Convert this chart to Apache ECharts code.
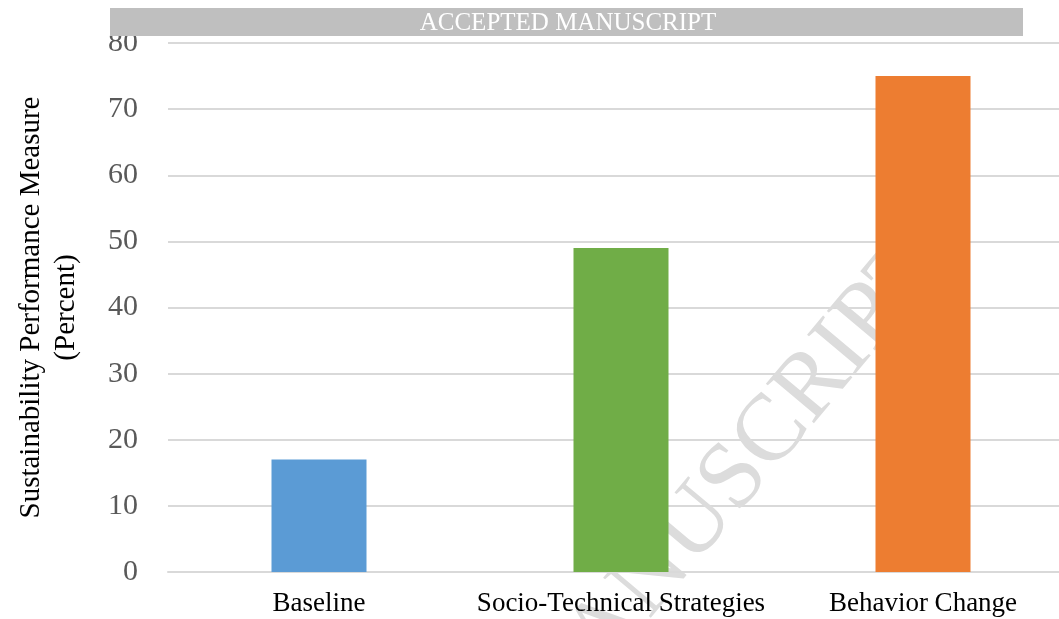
<!DOCTYPE html>
<html>
<head>
<meta charset="utf-8">
<script src="https://cdn.jsdelivr.net/npm/echarts@6/dist/echarts.min.js"></script>
<style>html,body{margin:0;padding:0;background:#fff;}#c{width:1059px;height:619px;}</style>
</head>
<body>
<div id="c"></div>
<script>
const categories = ['Baseline', 'Socio-Technical Strategies', 'Behavior Change'];
const values = [17, 49, 75];
const barColors = ['#5b9bd5', '#70ad47', '#ed7d31'];
const yTicks = [0, 10, 20, 30, 40, 50, 60, 70, 80];

const chart = echarts.init(document.getElementById('c'), null, {renderer: 'canvas'});
const serif = '"Liberation Serif", "DejaVu Serif", serif';
chart.setOption({
  animation: false,
  backgroundColor: '#ffffff',
  grid: {left: 168, right: -15, top: 43, bottom: 47, containLabel: false, outerBoundsMode: 'none'},
  xAxis: {
    type: 'category',
    data: categories,
    z: 4,
    axisLine: {show: true, lineStyle: {color: '#d9d9d9', width: 2}},
    axisTick: {show: false},
    axisLabel: {color: '#000000', fontFamily: serif, fontSize: 27, margin: 18, interval: 0, hideOverlap: false}
  },
  yAxis: {
    type: 'value',
    min: yTicks[0],
    max: yTicks[yTicks.length - 1],
    interval: 10,
    name: 'Sustainability Performance Measure\n(Percent)',
    nameLocation: 'middle',
    nameGap: 84,
    nameTextStyle: {color: '#000000', fontFamily: serif, fontSize: 29, lineHeight: 35},
    axisLine: {show: false},
    axisTick: {show: false},
    splitLine: {show: true, lineStyle: {color: '#d9d9d9', width: 2}},
    axisLabel: {color: '#595959', fontFamily: serif, fontSize: 30, margin: 30}
  },
  graphic: [
    {
      type: 'text',
      z: 1,
      position: [925, 252],
      rotation: 50 * Math.PI / 180,
      style: {
        x: 0, y: 0,
        text: 'ACCEPTED MANUSCRIPT',
        align: 'right',
        verticalAlign: 'middle',
        fill: '#dcdcdc',
        font: '95px "Liberation Serif", serif'
      }
    },
    {
      type: 'rect',
      z: 10,
      shape: {x: 110, y: 8, width: 913, height: 28},
      style: {fill: '#bfbfbf'}
    },
    {
      type: 'text',
      z: 11,
      style: {
        x: 568, y: 23,
        text: 'ACCEPTED MANUSCRIPT',
        align: 'center',
        verticalAlign: 'middle',
        fill: '#ffffff',
        font: '25px "Liberation Serif", serif'
      }
    }
  ],
  series: [{
    type: 'bar',
    z: 5,
    barWidth: 95,
    data: values.map((v, i) => ({value: v, itemStyle: {color: barColors[i]}}))
  }]
});
</script>
</body>
</html>
